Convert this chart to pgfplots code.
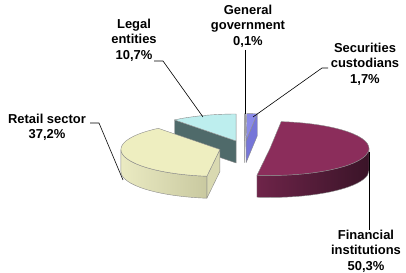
\documentclass[border=0pt]{standalone}
\usepackage{pgfplots}
\pgfplotsset{compat=1.18}
\usepackage{fontspec}
\setmainfont{Liberation Sans}

\definecolor{edge}{HTML}{8A8A8A}
\definecolor{finTop}{HTML}{8B2D5B}
\definecolor{finL}{HTML}{6E2449}
\definecolor{finR}{HTML}{3A1428}
\definecolor{retTop}{HTML}{EEEEC0}
\definecolor{retL}{HTML}{EAEAC2}
\definecolor{retR}{HTML}{C9C9A0}
\definecolor{retCut}{HTML}{D9D9B1}
\definecolor{legTop}{HTML}{BDEEEE}
\definecolor{legCut}{HTML}{4F6A6A}
\definecolor{secTop}{HTML}{8A8AE8}
\definecolor{secCut}{HTML}{7676D8}
\definecolor{genTop}{HTML}{A0A0B8}
\definecolor{genCut}{HTML}{9090A0}

\tikzset{lbl/.style={font=\fontsize{13}{15.5}\selectfont\bfseries, align=center, inner sep=0pt}}

% pie geometry (axis units = 1bp)
\def\rx{99}\def\ry{27}\def\thk{22}
\def\xo{244.6}\def\yo{125.4}\def\dexp{25.6}

% #1 cumulative start (%), #2 value (%), #3 top, #4 side left, #5 side right, #6 cut face
\newcommand{\pieslice}[6]{%
 \pgfmathsetmacro\tA{#1*3.6}%
 \pgfmathsetmacro\tB{(#1+#2)*3.6}%
 \pgfmathsetmacro\tM{(\tA+\tB)/2}%
 \pgfmathsetmacro\cx{\xo+\dexp*sin(\tM)}%
 \pgfmathsetmacro\cy{\yo+\dexp*\ry/\rx*cos(\tM)}%
 \pgfmathsetmacro\cyb{\cy-\thk}%
 \pgfmathsetmacro\pA{90-\tA}%
 \pgfmathsetmacro\pB{90-\tB}%
 \pgfmathsetmacro\xA{\cx+\rx*cos(\pA)}%
 \pgfmathsetmacro\yA{\cy+\ry*sin(\pA)}%
 \pgfmathsetmacro\yAb{\yA-\thk}%
 \pgfmathsetmacro\xB{\cx+\rx*cos(\pB)}%
 \pgfmathsetmacro\yB{\cy+\ry*sin(\pB)}%
 \pgfmathsetmacro\yBb{\yB-\thk}%
 \pgfmathparse{and(\tA>180,\tA<360)}%
 \ifdim\pgfmathresult pt>0.5pt
   \fill[#6,draw=edge,line width=0.4bp,line join=round] (axis cs:\cx,\cy) -- (axis cs:\xA,\yA) -- (axis cs:\xA,\yAb) -- (axis cs:\cx,\cyb) -- cycle;
 \fi
 \pgfmathparse{and(\tB>0,\tB<180)}%
 \ifdim\pgfmathresult pt>0.5pt
   \fill[#6,draw=edge,line width=0.4bp,line join=round] (axis cs:\cx,\cy) -- (axis cs:\xB,\yB) -- (axis cs:\xB,\yBb) -- (axis cs:\cx,\cyb) -- cycle;
 \fi
 \pgfmathsetmacro\sA{min(\pA,0)}%
 \pgfmathsetmacro\sB{max(\pB,-180)}%
 \pgfmathparse{\sA>\sB}%
 \ifdim\pgfmathresult pt>0.5pt
   \pgfmathsetmacro\xsA{\cx+\rx*cos(\sA)}%
   \pgfmathsetmacro\ysA{\cy+\ry*sin(\sA)}%
   \pgfmathsetmacro\xsB{\cx+\rx*cos(\sB)}%
   \pgfmathsetmacro\ysBb{\cy+\ry*sin(\sB)-\thk}%
   \shadedraw[left color=#4,right color=#5,draw=edge,line width=0.4bp,line join=round]
     (axis cs:\xsA,\ysA) arc[start angle=\sA,end angle=\sB,x radius=\rx bp,y radius=\ry bp]
     -- (axis cs:\xsB,\ysBb) arc[start angle=\sB,end angle=\sA,x radius=\rx bp,y radius=\ry bp] -- cycle;
 \fi
 \fill[#3,draw=edge,line width=0.4bp,line join=round] (axis cs:\cx,\cy) -- (axis cs:\xA,\yA)
   arc[start angle=\pA,end angle=\pB,x radius=\rx bp,y radius=\ry bp] -- cycle;
}

\begin{document}
\begin{tikzpicture}
\begin{axis}[
  x=1bp, y=1bp,
  xmin=0, xmax=406, ymin=0, ymax=273,
  hide axis, clip=false,
]
\path (axis cs:0,0) rectangle (axis cs:406,273);
% slices: General 0.1, Securities 1.7, Financial 50.3, Retail 37.2, Legal 10.7 (clockwise from 12 o'clock)
\pgfplotsextra{\pieslice{89.3}{10.7}{legTop}{legCut}{legCut}{legCut}}
\pgfplotsextra{\pieslice{0}{0.1}{genTop}{genCut}{genCut}{genCut}}
\pgfplotsextra{\pieslice{0.1}{1.7}{secTop}{secCut}{secCut}{secCut}}
\pgfplotsextra{\pieslice{52.1}{37.2}{retTop}{retL}{retR}{retCut}}
\pgfplotsextra{\pieslice{1.8}{50.3}{finTop}{finL}{finR}{finR}}

% leader lines
\addplot[black, line width=0.6bp, no markers] coordinates {(154,212) (163,212) (203,156)};
\addplot[black, line width=0.6bp, no markers] coordinates {(245,223) (245,159)};
\addplot[black, line width=0.6bp, no markers] coordinates {(328,205) (322,205) (253,156)};
\addplot[black, line width=0.6bp, no markers] coordinates {(90,150) (99,150) (123,93)};
\addplot[black, line width=0.6bp, no markers] coordinates {(369,121) (369,43)};

% labels
\node[lbl] at (axis cs:134,233) {Legal\\entities\\10,7\%};
\node[lbl] at (axis cs:248,247) {General\\government\\0,1\%};
\node[lbl] at (axis cs:365,209) {Securities\\custodians\\1,7\%};
\node[lbl] at (axis cs:47,145.5) {Retail sector\\37,2\%};
\node[lbl] at (axis cs:366,22) {Financial\\institutions\\50,3\%};
\end{axis}
\end{tikzpicture}
\end{document}
